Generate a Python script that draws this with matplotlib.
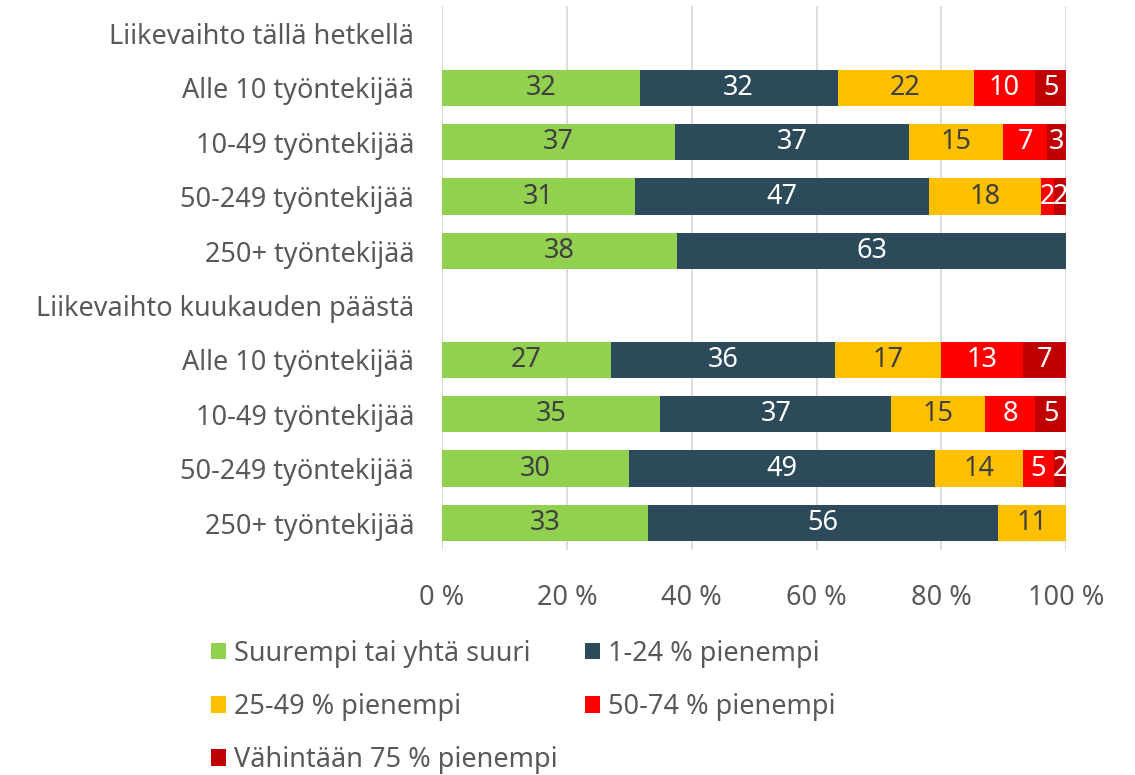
import matplotlib
matplotlib.use("Agg")
import matplotlib.pyplot as plt
import numpy as np

plt.rcParams['font.family'] = ['Noto Sans', 'DejaVu Sans']

rows = [
    "Liikevaihto tällä hetkellä",
    "Alle 10 työntekijää",
    "10-49 työntekijää",
    "50-249 työntekijää",
    "250+ työntekijää",
    "Liikevaihto kuukauden päästä",
    "Alle 10 työntekijää",
    "10-49 työntekijää",
    "50-249 työntekijää",
    "250+ työntekijää",
]
series = [
    "Suurempi tai yhtä suuri",
    "1-24 % pienempi",
    "25-49 % pienempi",
    "50-74 % pienempi",
    "Vähintään 75 % pienempi",
]
# header rows have no data
suurempi = [0, 32, 37, 31, 38, 0, 27, 35, 30, 33]
p1_24 = [0, 32, 37, 47, 63, 0, 36, 37, 49, 56]
p25_49 = [0, 22, 15, 18, 0, 0, 17, 15, 14, 11]
p50_74 = [0, 10, 7, 2, 0, 0, 13, 8, 5, 0]
p75 = [0, 5, 3, 2, 0, 0, 7, 5, 2, 0]

colors = ["#92D050", "#2C4A5A", "#FFC000", "#FF0000", "#C00000"]
text_colors = ["#404040", "white", "#404040", "white", "white"]
grey = "#595959"
fs = 19.5


def main():
    data = np.array([suurempi, p1_24, p25_49, p50_74, p75], dtype=float)
    totals = data.sum(axis=0)
    totals[totals == 0] = 1
    share = data / totals

    fig = plt.figure(figsize=(11.35, 7.75), dpi=100)
    ax = fig.add_axes([0.3894, 0.29, 0.55, 0.702])

    y = np.arange(len(rows))
    left = np.zeros(len(rows))
    bars = []
    for i in range(len(series)):
        b = ax.barh(y, share[i], left=left, height=0.67, color=colors[i],
                    label=series[i], zorder=3)
        bars.append(b)
        for j in range(len(rows)):
            if data[i, j] > 0:
                ax.text(left[j] + share[i, j] / 2, y[j], "%d" % data[i, j],
                        ha="center", va="center", fontsize=fs,
                        color=text_colors[i], zorder=4)
        left += share[i]

    ax.set_xlim(0, 1)
    ax.set_ylim(len(rows) - 0.5, -0.5)
    ax.set_yticks(y)
    ax.set_yticklabels(rows, fontsize=fs, color=grey)
    ax.set_xticks(np.linspace(0, 1, 6))
    ax.set_xticklabels(["%d %%" % v for v in range(0, 101, 20)],
                       fontsize=fs, color=grey)
    ax.tick_params(length=0, axis="y", pad=20)
    ax.tick_params(length=0, axis="x", pad=24)
    for s in ax.spines.values():
        s.set_visible(False)
    ax.xaxis.grid(True, color="#d9d9d9", linewidth=1.3, zorder=0)

    # legend fills column-wise, reorder so it reads row by row
    order = [0, 2, 4, 1, 3]
    fig.legend([bars[k] for k in order], [series[k] for k in order],
               loc="upper left", bbox_to_anchor=(0.174, 0.192), ncol=2,
               frameon=False, fontsize=fs, labelcolor=grey,
               handlelength=0.55, handleheight=0.55, handletextpad=0.3,
               columnspacing=1.0, labelspacing=0.93, borderpad=0)

    fig.savefig("out.png", dpi=100)


if __name__ == "__main__":
    main()
